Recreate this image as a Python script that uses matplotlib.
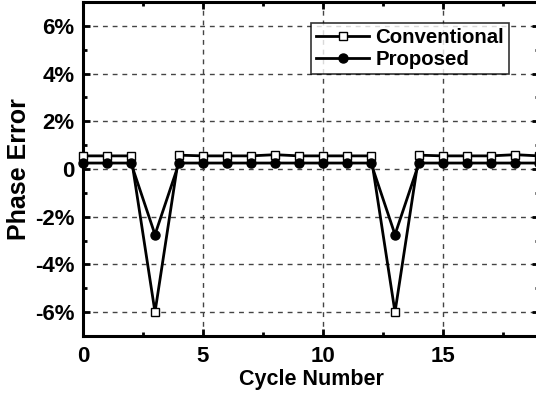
import matplotlib
matplotlib.use("Agg")
import matplotlib.pyplot as plt
from matplotlib.ticker import MultipleLocator, FuncFormatter

cycles = list(range(0, 20))
conventional = [0.55, 0.55, 0.55, -6.0, 0.58, 0.55, 0.55, 0.55, 0.6, 0.55,
                0.55, 0.55, 0.55, -6.0, 0.58, 0.55, 0.55, 0.55, 0.6, 0.55]
proposed = [0.25, 0.25, 0.25, -2.75, 0.25, 0.25, 0.25, 0.25, 0.25, 0.25,
            0.25, 0.25, 0.25, -2.75, 0.25, 0.25, 0.25, 0.25, 0.25, 0.25]
xticks = [0, 5, 10, 15]
yticks = [-6, -4, -2, 0, 2, 4, 6]

plt.rcParams['font.family'] = ['Liberation Sans', 'DejaVu Sans']
plt.rcParams['font.weight'] = 'bold'

fig = plt.figure(figsize=(5.36, 3.96), dpi=100)
ax = fig.add_axes([83/536, 60/396, 456/536, 334/396])

ax.plot(cycles, conventional, color='black', lw=2.0, marker='s', ms=5.5,
        mfc='white', mec='black', mew=1.0, label='Conventional', zorder=3,
        clip_on=False)
ax.plot(cycles, proposed, color='black', lw=2.0, marker='o', ms=6.5,
        mfc='black', mec='black', label='Proposed', zorder=4, clip_on=False)

ax.set_xlim(0, 19)
ax.set_ylim(-7, 7)
ax.set_xticks(xticks)
ax.set_yticks(yticks)
ax.xaxis.set_minor_locator(MultipleLocator(2.5))
ax.yaxis.set_minor_locator(MultipleLocator(1))
ax.yaxis.set_major_formatter(FuncFormatter(lambda v, p: '0' if v == 0 else f'{int(v)}%'))
ax.tick_params(which='both', direction='in', top=True, right=True, width=2)
ax.tick_params(which='major', length=5, labelsize=16)
ax.tick_params(axis='y', which='major', pad=6)
ax.tick_params(axis='x', which='major', pad=7)
ax.tick_params(which='minor', length=3)
for lab in ax.get_xticklabels() + ax.get_yticklabels():
    lab.set_fontweight('bold')
for s in ax.spines.values():
    s.set_linewidth(2.2)

ax.grid(True, which='major', linestyle=(0, (3.5, 3.5)), color='#444444', lw=1.0)

ax.set_xlabel('Cycle Number', fontsize=15.5, fontweight='bold', labelpad=1.5)
ax.set_ylabel('Phase Error', fontsize=18, fontweight='bold', labelpad=3)

leg = ax.legend(loc='upper left', bbox_to_anchor=(228/456, 313/334), fontsize=14.7,
                frameon=True, fancybox=False, edgecolor='black',
                handlelength=2.6, handletextpad=0.3, borderpad=0.25,
                labelspacing=0.15, borderaxespad=0)
leg.get_frame().set_linewidth(1.2)
for t in leg.get_texts():
    t.set_fontweight('bold')

fig.savefig('out.png', dpi=100)
